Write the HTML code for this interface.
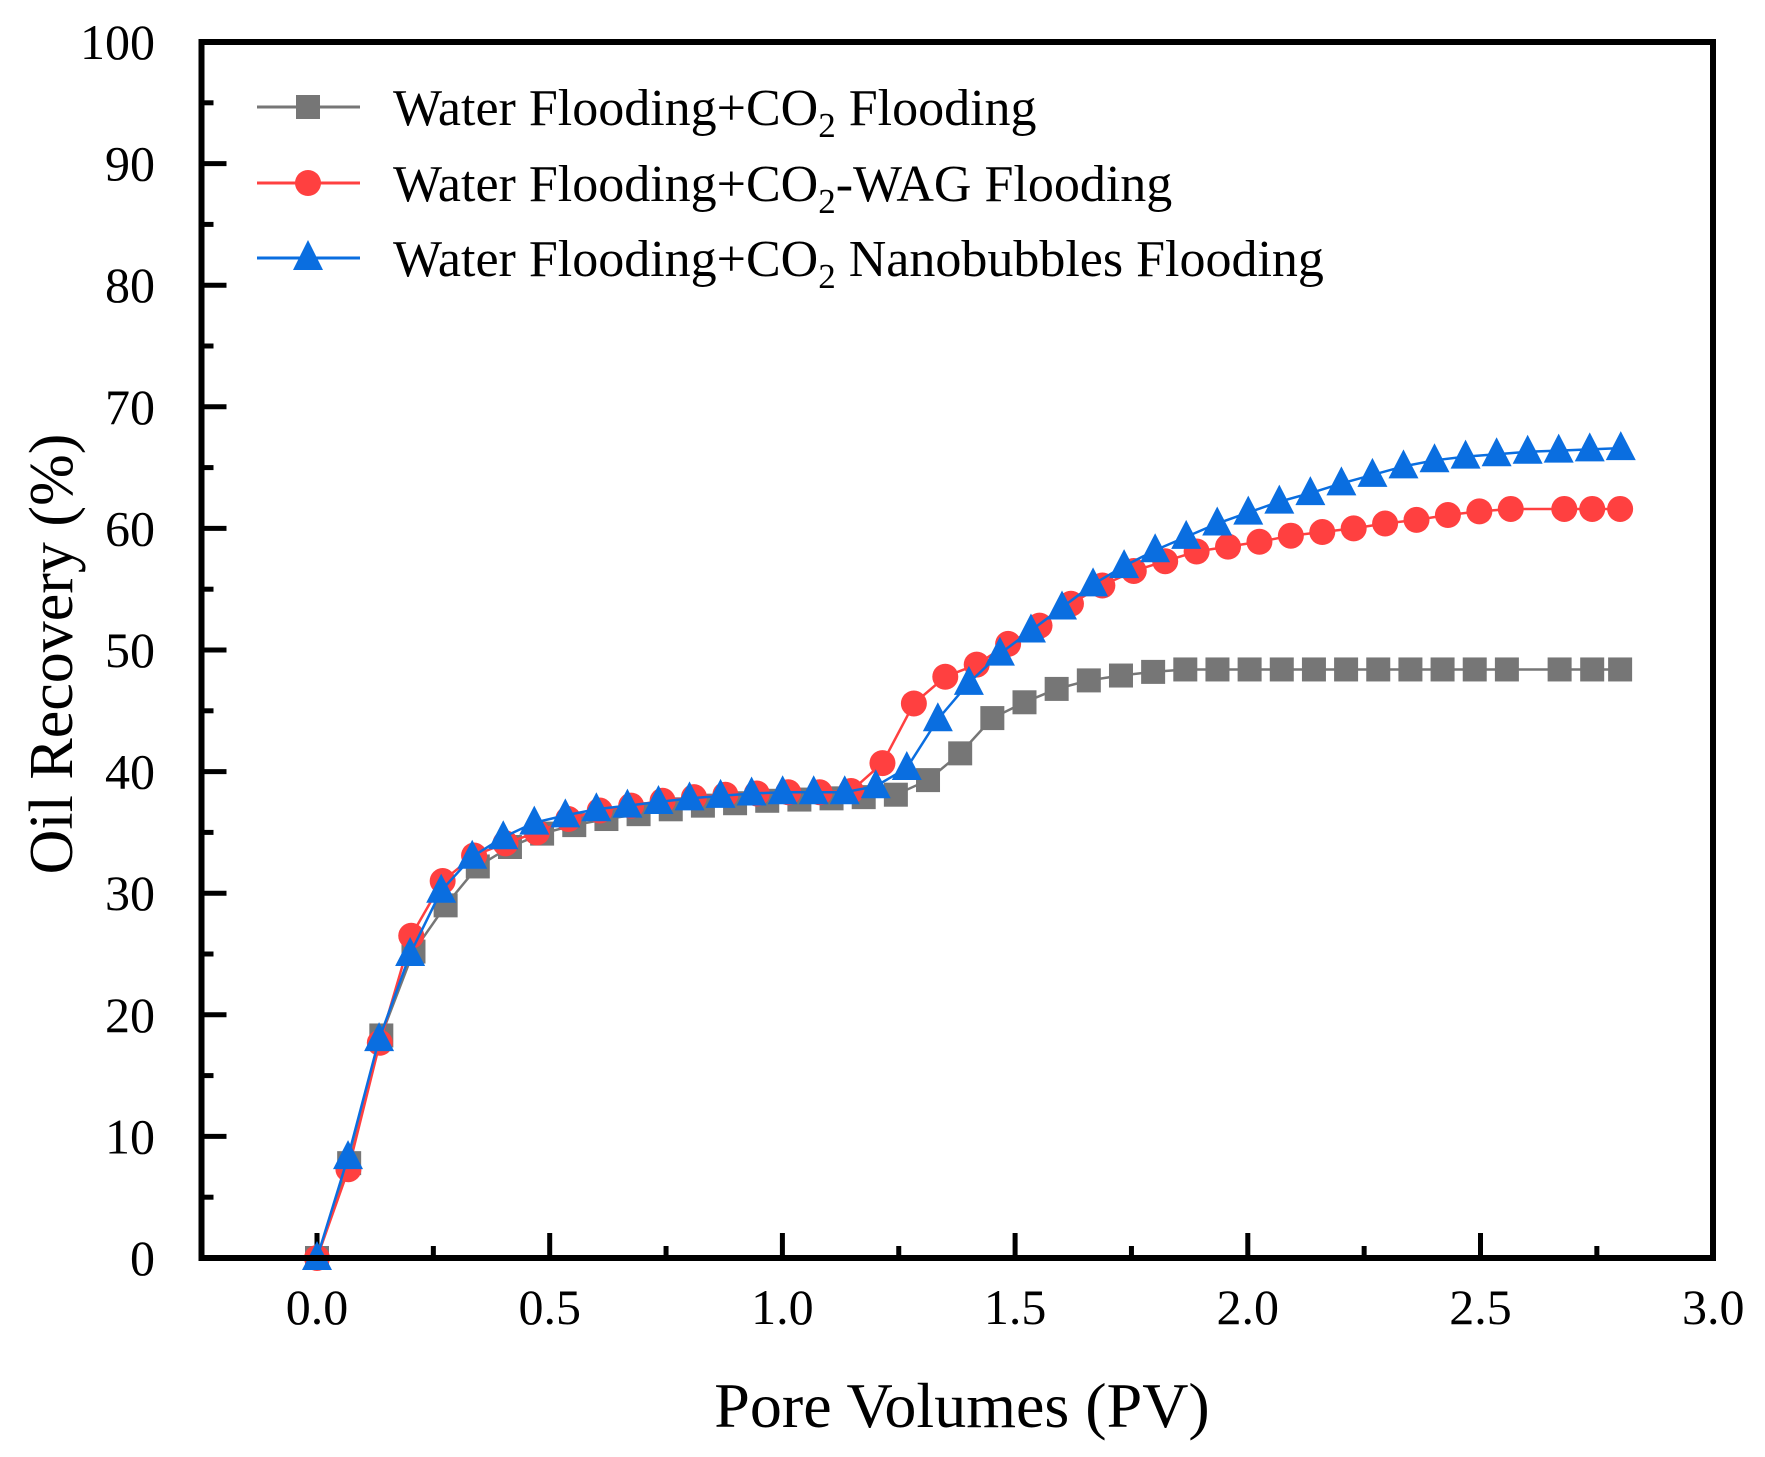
<!DOCTYPE html>
<html><head><meta charset="utf-8"><style>
html,body{margin:0;padding:0;background:#fff}
svg{display:block}
text{font-family:"Liberation Serif",serif;fill:#000}
</style></head><body>
<svg id="s" width="1765" height="1457" viewBox="0 0 1765 1457" xmlns="http://www.w3.org/2000/svg">
<rect width="1765" height="1457" fill="#fff"/>
<g id="ticks"></g>
<g id="series"></g>
<rect x="201.5" y="42" width="1511.5" height="1216" fill="none" stroke="#000" stroke-width="6"/>
<g font-size="50" id="labels"></g>
<text x="962" y="1427" font-size="64" text-anchor="middle">Pore Volumes (PV)</text>
<text transform="translate(72,654) rotate(-90)" font-size="62" text-anchor="middle">Oil Recovery (%)</text>
<g font-size="52">
<line x1="257" y1="107" x2="360" y2="107" stroke="#767676" stroke-width="3"/>
<rect x="296" y="95" width="24" height="24" fill="#767676"/>
<text x="393" y="125">Water Flooding+CO<tspan font-size="35" dy="12">2</tspan><tspan dy="-12"> Flooding</tspan></text>
<line x1="257" y1="183" x2="360" y2="183" stroke="#ff4040" stroke-width="3"/>
<circle cx="308" cy="183" r="13" fill="#ff4040"/>
<text x="393" y="201">Water Flooding+CO<tspan font-size="35" dy="12">2</tspan><tspan dy="-12">-WAG Flooding</tspan></text>
<line x1="257" y1="258" x2="360" y2="258" stroke="#0a6ee0" stroke-width="3"/>
<polygon points="308,240 323,270 293,270" fill="#0a6ee0"/>
<text x="393" y="276">Water Flooding+CO<tspan font-size="35" dy="12">2</tspan><tspan dy="-12"> Nanobubbles Flooding</tspan></text>
</g>
</svg>
<script>
var NS="http://www.w3.org/2000/svg";
function X(p){return 317+465.4*p}
function Y(v){return 1258-12.16*v}
function el(t,a,parent){var e=document.createElementNS(NS,t);for(var k in a)e.setAttribute(k,a[k]);parent.appendChild(e);return e}
var tk=document.getElementById('ticks'),lb=document.getElementById('labels'),sr=document.getElementById('series');
for(var v=0;v<=100;v+=5){var maj=v%10==0;el('line',{x1:201.5,x2:201.5+(maj?25:12),y1:Y(v),y2:Y(v),stroke:'#000','stroke-width':5},tk);
 if(maj){var t=el('text',{x:155,y:Y(v)+17,'text-anchor':'end'},lb);t.textContent=v;}}
for(var i=1;i<=13;i++){var p=-0.25+i*0.25;var maj=i%2==1;if(i<13)el('line',{x1:X(p),x2:X(p),y1:1258,y2:1258-(maj?25:12),stroke:'#000','stroke-width':5},tk);
 if(maj){var t=el('text',{x:X(p),y:1324,'text-anchor':'middle'},lb);t.textContent=p.toFixed(1);}}
var gv=[0,7.8,18.3,25.2,29,32.2,33.8,34.9,35.6,36.1,36.5,36.9,37.2,37.4,37.6,37.7,37.8,37.9,38.1,39.3,41.5,44.4,45.7,46.8,47.5,47.9,48.2,48.4,48.4,48.4,48.4,48.4,48.4,48.4,48.4,48.4,48.4,48.4];
var g=gv.map(function(v,i){return [i*0.0691,v]});g.push([2.67,48.4],[2.74,48.4],[2.80,48.4]);
var rv=[0,7.3,17.7,26.5,31,33.1,34.1,35,36.1,36.8,37.2,37.6,37.9,38.1,38.2,38.3,38.3,38.4,40.7,45.6,47.8,48.8,50.5,52,53.8,55.3,56.5,57.3,58.1,58.5,58.9,59.4,59.7,60,60.4,60.7,61.1,61.4,61.6];
var r=rv.map(function(v,i){return [i*0.0675,v]});r.push([2.68,61.6],[2.74,61.6],[2.80,61.6]);
var bv=[0,8.3,18,25,30.2,33,34.6,35.8,36.4,36.9,37.2,37.5,37.8,38,38.2,38.3,38.3,38.3,38.8,40.3,44.3,47.3,49.7,51.6,53.5,55.4,56.9,58.2,59.3,60.4,61.3,62.2,62.9,63.7,64.4,65.1,65.6,65.9,66.1,66.3,66.4,66.5,66.6];
var b=bv.map(function(v,i){return [i*0.0667,v]});
function poly(d,c){el('polyline',{points:d.map(function(q){return X(q[0])+','+Y(q[1])}).join(' '),fill:'none',stroke:c,'stroke-width':2.5},sr)}
poly(g,'#767676');g.forEach(function(q){el('rect',{x:X(q[0])-12,y:Y(q[1])-12,width:24,height:24,fill:'#767676'},sr)});
poly(r,'#ff4040');r.forEach(function(q){el('circle',{cx:X(q[0]),cy:Y(q[1]),r:13,fill:'#ff4040'},sr)});
poly(b,'#0a6ee0');b.forEach(function(q){var x=X(q[0]),y=Y(q[1]);el('polygon',{points:x+','+(y-17)+' '+(x+15)+','+(y+12)+' '+(x-15)+','+(y+12),fill:'#0a6ee0'},sr)});
</script>
</body></html>
